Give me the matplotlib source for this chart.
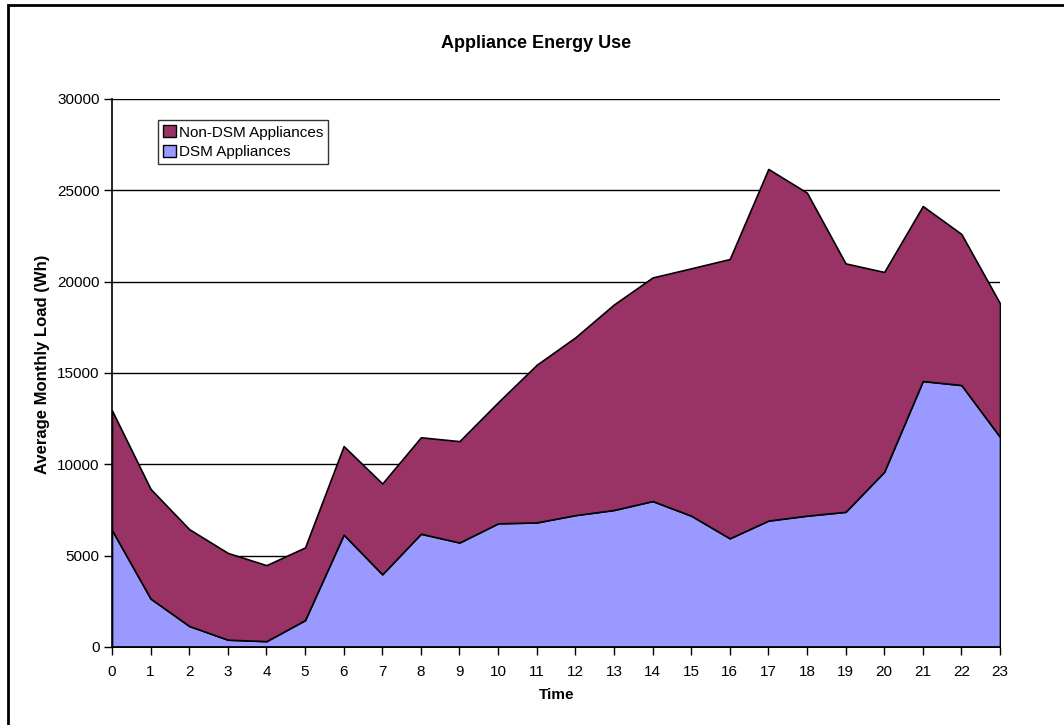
import matplotlib
matplotlib.use("Agg")
import matplotlib.pyplot as plt
from matplotlib.patches import Rectangle, Patch

hours = list(range(24))
dsm = [6400, 2650, 1150, 400, 320, 1470, 6150, 3980, 6200, 5720, 6770, 6820,
       7220, 7500, 7990, 7190, 5950, 6920, 7190, 7400, 9590, 14560, 14340, 11500]
non_dsm = [6550, 6000, 5300, 4750, 4160, 3980, 4850, 4970, 5280, 5550, 6630, 8630,
           9730, 11250, 12240, 13540, 15290, 19250, 17680, 13600, 10940, 9580, 8270, 7310]
series_names = ["DSM Appliances", "Non-DSM Appliances"]
colors = ["#9999FF", "#993366"]
yticks = [0, 5000, 10000, 15000, 20000, 25000, 30000]

plt.rcParams['font.family'] = ['Liberation Sans', 'DejaVu Sans']

fig = plt.figure(figsize=(10.64, 7.25), dpi=100)
ax = fig.add_axes([112/1064, 1-647/725, (1000-112)/1064, (647-99)/725])

for y in yticks[1:]:
    ax.axhline(y, color='black', lw=1.0, zorder=1)

polys = ax.stackplot(hours, dsm, non_dsm, colors=colors, zorder=2,
                     edgecolor='black', linewidth=1.2)
for p in polys:
    p.set_edgecolor('black')

ax.set_xlim(0, 23)
ax.set_ylim(0, 30000)
ax.set_xticks(hours)
ax.set_xticklabels([str(h) for h in hours], fontsize=11)
ax.set_yticks(yticks)
ax.set_yticklabels([str(v) for v in yticks], fontsize=11)
ax.tick_params(axis='both', direction='out', length=6, width=1, color='black')
ax.tick_params(axis='x', pad=7)
ax.tick_params(axis='y', pad=3)
ax.spines['top'].set_visible(False)
ax.spines['right'].set_visible(False)
ax.spines['left'].set_linewidth(1.2)
ax.spines['bottom'].set_linewidth(1.2)

ax.set_xlabel("Time", fontsize=11, fontweight='bold')
ax.xaxis.set_label_coords((557-112)/888, (647-695)/548)
ax.xaxis.label.set_va('center')
ax.set_ylabel("Average Monthly Load (Wh)", fontsize=12, fontweight='bold')
ax.yaxis.set_label_coords((43-112)/888, (647-364)/548)
ax.yaxis.label.set_va('center')
fig.text(536/1064, 1-44/725, "Appliance Energy Use", ha='center', va='center',
         fontsize=13, fontweight='bold')

handles = [Patch(facecolor=colors[1], edgecolor='black', label=series_names[1]),
           Patch(facecolor=colors[0], edgecolor='black', label=series_names[0])]
leg = ax.legend(handles=handles, loc='upper left', bbox_to_anchor=((158-112)/888, 1-(120-99)/548),
                fontsize=11, frameon=True, fancybox=False, handlelength=0.8, handleheight=0.8,
                handletextpad=0.2, borderpad=0.35, labelspacing=0.35, borderaxespad=0)
leg.get_frame().set_edgecolor('black')
leg.get_frame().set_linewidth(1.0)

fig.patches.append(Rectangle((8/1064, -0.1), 1.2, 1 - 5/725 + 0.1, transform=fig.transFigure,
                             fill=False, edgecolor='black', linewidth=2))

fig.savefig("out.png", dpi=100)
